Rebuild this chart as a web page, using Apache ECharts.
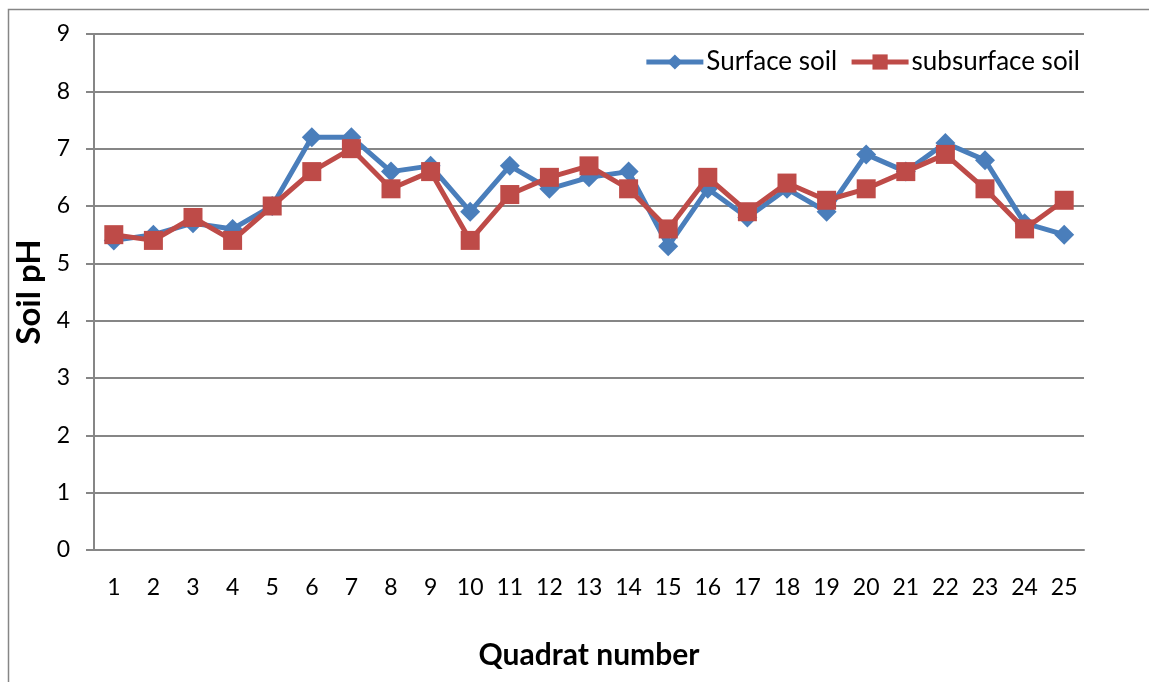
<!DOCTYPE html>
<html>
<head>
<meta charset="utf-8">
<script src="https://cdn.jsdelivr.net/npm/echarts@6/dist/echarts.min.js"></script>
<style>
  html, body { margin: 0; padding: 0; background: #fff; }
  #chart { width: 1149px; height: 682px; }
</style>
</head>
<body>
<div id="chart"></div>
<script>
// Quadrat numbers along the x axis
const quadrats = ['1','2','3','4','5','6','7','8','9','10','11','12','13','14','15','16','17','18','19','20','21','22','23','24','25'];
// Soil pH per quadrat
const surfaceSoil = [5.4, 5.5, 5.7, 5.6, 6.0, 7.2, 7.2, 6.6, 6.7, 5.9, 6.7, 6.3, 6.5, 6.6, 5.3, 6.3, 5.8, 6.3, 5.9, 6.9, 6.6, 7.1, 6.8, 5.7, 5.5];
const subsurfaceSoil = [5.5, 5.4, 5.8, 5.4, 6.0, 6.6, 7.0, 6.3, 6.6, 5.4, 6.2, 6.5, 6.7, 6.3, 5.6, 6.5, 5.9, 6.4, 6.1, 6.3, 6.6, 6.9, 6.3, 5.6, 6.1];

const FONT = 'Lato, "Open Sans", sans-serif';
const chart = echarts.init(document.getElementById('chart'), null, { renderer: 'canvas' });

chart.setOption({
  animation: false,
  backgroundColor: '#ffffff',
  graphic: [{
    type: 'rect',
    shape: { x: 8.5, y: 9.5, width: 1200, height: 800 },
    style: { fill: 'none', stroke: '#868686', lineWidth: 1.5 },
    silent: true
  }],
  grid: { left: 94, right: 65, top: 34, bottom: 132 },
  legend: {
    top: 44,
    right: 64,
    itemWidth: 57,
    itemHeight: 19,
    itemGap: 12,
    lineStyle: { width: 5 },
    textStyle: { fontFamily: FONT, fontSize: 26, color: '#000', padding: [0, 0, 0, -2] },
    data: ['Surface soil', 'subsurface soil']
  },
  xAxis: {
    type: 'category',
    data: quadrats,
    boundaryGap: true,
    name: 'Quadrat number',
    nameLocation: 'middle',
    nameGap: 90,
    nameTextStyle: { fontFamily: FONT, fontSize: 30, fontWeight: 'bold', color: '#000' },
    axisLine: { lineStyle: { color: '#868686', width: 2 } },
    axisTick: { show: false },
    axisLabel: { fontFamily: FONT, fontSize: 23, color: '#000', margin: 26 }
  },
  yAxis: {
    type: 'value',
    min: 0,
    max: 9,
    interval: 1,
    name: 'Soil pH',
    nameLocation: 'middle',
    nameGap: 44,
    nameRotate: 90,
    nameTextStyle: { fontFamily: FONT, fontSize: 33, fontWeight: 'bold', color: '#000' },
    axisLine: { show: true, lineStyle: { color: '#868686', width: 2 } },
    axisTick: { show: true, length: 8, inside: false, lineStyle: { color: '#868686', width: 2 } },
    axisLabel: { fontFamily: FONT, fontSize: 23, color: '#000', margin: 24 },
    splitLine: { lineStyle: { color: '#868686', width: 2 } }
  },
  series: [
    {
      name: 'Surface soil',
      type: 'line',
      data: surfaceSoil,
      symbol: 'diamond',
      symbolSize: 20,
      lineStyle: { color: '#4A7EBB', width: 5 },
      itemStyle: { color: '#4A7EBB' },
      z: 2
    },
    {
      name: 'subsurface soil',
      type: 'line',
      data: subsurfaceSoil,
      symbol: 'rect',
      symbolSize: 19,
      lineStyle: { color: '#BE4B48', width: 5 },
      itemStyle: { color: '#BE4B48' },
      z: 3
    }
  ]
});
</script>
</body>
</html>
